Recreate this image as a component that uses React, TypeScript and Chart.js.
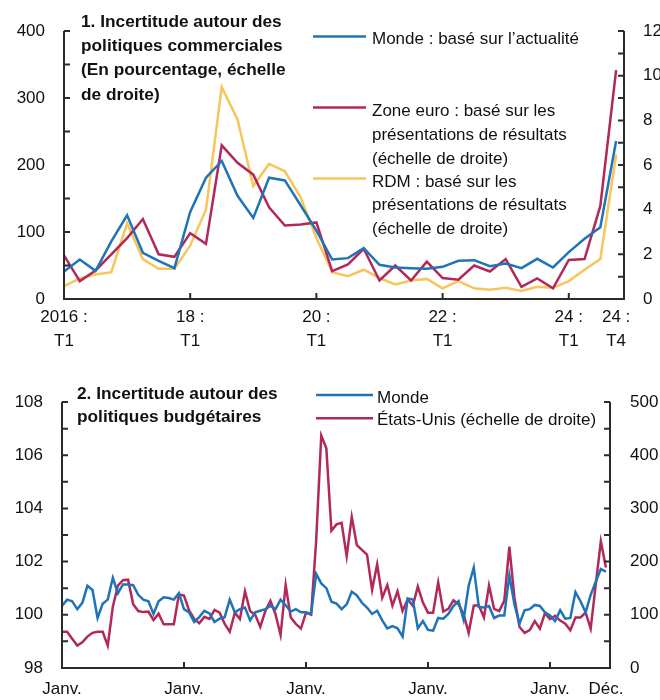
import React, { useEffect, useRef } from "react";
import { Chart, registerables } from "chart.js";

Chart.register(...registerables);

const FONT = "'Liberation Sans', Arial, Helvetica, sans-serif";
const BLUE = "#1f74b8";
const RED = "#b3285a";
const YELLOW = "#f7c55a";
const AXIS = "#2b2b2b";
const TEXT = "#111111";

// ---------- Panel 1: trade policy uncertainty (quarterly) ----------
const quarters = [
  "2016T1", "2016T2", "2016T3", "2016T4", "2017T1", "2017T2", "2017T3", "2017T4",
  "2018T1", "2018T2", "2018T3", "2018T4", "2019T1", "2019T2", "2019T3", "2019T4",
  "2020T1", "2020T2", "2020T3", "2020T4", "2021T1", "2021T2", "2021T3", "2021T4",
  "2022T1", "2022T2", "2022T3", "2022T4", "2023T1", "2023T2", "2023T3", "2023T4",
  "2024T1", "2024T2", "2024T3", "2024T4",
];
const mondeTrade = [
  41, 59, 42, 86, 125, 69, 57, 46, 130, 181, 206, 154,
  121, 181, 177, 140, 102, 59, 61, 76, 51, 47, 46, 45,
  48, 57, 58, 49, 53, 46, 60, 47, 70, 90, 107, 236,
];
const zoneEuroTrade = [
  1.95, 0.8, 1.28, 2.0, 2.73, 3.58, 2.0, 1.89, 2.95, 2.47, 6.88, 6.1,
  5.57, 4.11, 3.29, 3.34, 3.43, 1.25, 1.55, 2.25, 0.83, 1.5, 0.83, 1.67,
  0.94, 0.86, 1.5, 1.23, 1.79, 0.54, 0.92, 0.48, 1.75, 1.79, 4.17, 10.25,
];
const rdmTrade = [
  0.58, 0.92, 1.1, 1.2, 3.39, 1.79, 1.35, 1.35, 2.4, 4.0, 9.49, 8.04,
  5.06, 6.05, 5.72, 4.55, 2.73, 1.2, 1.02, 1.31, 0.94, 0.65, 0.83, 0.9,
  0.48, 0.8, 0.48, 0.42, 0.5, 0.36, 0.55, 0.5, 0.8, 1.31, 1.79, 6.47,
];
const topTickCats = ["2016T1", "2018T1", "2020T1", "2022T1", "2024T1", "2024T4"];
const topTickText = [
  ["2016 :", "T1"], ["18 :", "T1"], ["20 :", "T1"], ["22 :", "T1"], ["24 :", "T1"], ["24 :", "T4"],
];

// ---------- Panel 2: fiscal policy uncertainty (monthly) ----------
const years = ["2016", "2017", "2018", "2019", "2020", "2021", "2022", "2023", "2024"];
const monthCodes = ["01", "02", "03", "04", "05", "06", "07", "08", "09", "10", "11", "12"];
const months = years.flatMap((y) => monthCodes.map((m) => `${y}-${m}`));
const mondeFiscal = [
  100.33, 100.57, 100.51, 100.21, 100.45, 101.09, 100.93, 99.88, 100.41, 100.57,
  101.39, 100.81, 101.14, 101.14, 101.11, 100.75, 100.57, 100.51, 100.03, 100.51,
  100.66, 100.63, 100.57, 100.81, 100.21, 100.09, 99.73, 99.91, 100.15, 100.05,
  99.73, 99.85, 99.91, 100.57, 100.09, 100.21, 100.27, 99.79, 100.09, 100.15,
  100.21, 100.33, 100.21, 100.57, 100.36, 100.12, 100.21, 100.09, 100.09, 100.03,
  101.54, 101.18, 101.0, 100.49, 100.42, 100.21, 100.39, 100.87, 100.73, 100.45,
  100.27, 100.03, 100.15, 99.79, 99.49, 99.57, 99.49, 99.18, 100.61, 100.57,
  99.49, 99.76, 99.43, 99.4, 99.88, 99.85, 100.03, 100.33, 100.51, 99.81,
  101.09, 101.78, 100.29, 100.27, 100.33, 99.88, 99.97, 99.97, 101.48, 100.39,
  99.67, 100.17, 100.21, 100.37, 100.33, 100.09, 99.97, 99.76, 100.17, 99.85,
  99.88, 100.85, 100.51, 100.09, 100.75, 101.24, 101.72, 101.62,
];
const usFiscal = [
  68, 68, 55, 42, 48, 59, 66, 68, 68, 42,
  115, 155, 165, 166, 120, 107, 105, 106, 90, 102,
  82, 82, 82, 138, 136, 108, 92, 84, 96, 92,
  109, 104, 83, 68, 104, 92, 144, 107, 100, 77,
  107, 126, 101, 62, 156, 95, 83, 74, 104, 100,
  240, 437, 413, 258, 270, 273, 210, 284, 231, 222,
  213, 147, 195, 132, 156, 117, 144, 107, 129, 117,
  153, 123, 104, 104, 161, 106, 111, 127, 120, 101,
  66, 117, 118, 95, 155, 111, 107, 126, 228, 132,
  77, 66, 71, 88, 74, 103, 92, 98, 89, 83,
  71, 95, 95, 104, 74, 157, 238, 189,
];
const bottomTickCats = ["2016-01", "2018-01", "2020-01", "2022-01", "2024-01", "2024-12"];
const bottomTickText = ["Janv.", "Janv.", "Janv.", "Janv.", "Janv.", "Déc."];

type LegendItem = { color: string; x1: number; x2: number; y: number; tx: number; lines: string[]; base: number; lh: number };
type FrameCfg = {
  leftStep: number;
  rightStep: number;
  xTickIdx: number[];
  title: { x: number; base: number; lh: number; lines: string[] };
  legend: LegendItem[];
};

function framePlugin(cfg: FrameCfg) {
  return {
    id: "frame",
    afterDraw(chart: any) {
      const { ctx, chartArea: a, scales } = chart;
      ctx.save();
      ctx.strokeStyle = AXIS;
      ctx.lineWidth = 2;
      ctx.lineCap = "butt";
      ctx.beginPath();
      ctx.moveTo(a.left, a.top);
      ctx.lineTo(a.left, a.bottom);
      ctx.lineTo(a.right, a.bottom);
      ctx.lineTo(a.right, a.top);
      ctx.stroke();
      const tl = 6;
      const yl = scales.yL;
      ctx.beginPath();
      for (let v = yl.min; v <= yl.max + 1e-9; v += cfg.leftStep) {
        const p = yl.getPixelForValue(v);
        ctx.moveTo(a.left, p);
        ctx.lineTo(a.left + tl, p);
      }
      const yr = scales.yR;
      for (let v = yr.min; v <= yr.max + 1e-9; v += cfg.rightStep) {
        const p = yr.getPixelForValue(v);
        ctx.moveTo(a.right - tl, p);
        ctx.lineTo(a.right, p);
      }
      const xs = scales.x;
      cfg.xTickIdx.forEach((i) => {
        const p = xs.getPixelForValue(i);
        ctx.moveTo(p, a.bottom);
        ctx.lineTo(p, a.bottom - tl);
      });
      ctx.stroke();

      // title
      ctx.fillStyle = TEXT;
      ctx.textAlign = "left";
      ctx.textBaseline = "alphabetic";
      ctx.font = `bold 17.3px ${FONT}`;
      cfg.title.lines.forEach((t, i) => ctx.fillText(t, cfg.title.x, cfg.title.base + i * cfg.title.lh));

      // legend
      ctx.font = `17px ${FONT}`;
      cfg.legend.forEach((it) => {
        ctx.strokeStyle = it.color;
        ctx.lineWidth = 2.5;
        ctx.beginPath();
        ctx.moveTo(it.x1, it.y);
        ctx.lineTo(it.x2, it.y);
        ctx.stroke();
        ctx.fillStyle = TEXT;
        it.lines.forEach((t, i) => ctx.fillText(t, it.tx, it.base + i * it.lh));
      });
      ctx.restore();
    },
  };
}

const tickFont = { family: FONT, size: 17, lineHeight: 1.42 };

function yAxis(pos: "left" | "right", min: number, max: number, step: number, width: number, pad: number) {
  return {
    type: "linear",
    position: pos,
    min,
    max,
    grid: { display: false, drawTicks: false },
    border: { display: false },
    ticks: { stepSize: step, padding: pad, color: TEXT, font: tickFont },
    afterFit: (s: any) => {
      s.width = width;
    },
  };
}

function xAxis(max: number, tickIdx: number[], labels: (string | string[])[], height: number, pad: number) {
  return {
    type: "linear",
    position: "bottom",
    min: 0,
    max,
    grid: { display: false, drawTicks: false },
    border: { display: false },
    afterBuildTicks: (s: any) => {
      s.ticks = tickIdx.map((v) => ({ value: v }));
    },
    ticks: {
      autoSkip: false,
      maxRotation: 0,
      minRotation: 0,
      padding: pad,
      color: TEXT,
      font: tickFont,
      callback: (v: number) => {
        const k = tickIdx.indexOf(v);
        return k >= 0 ? labels[k] : "";
      },
    },
    afterFit: (s: any) => {
      s.height = height;
    },
  };
}

function lineDs(label: string, values: number[], color: string, axis: string) {
  return {
    label,
    data: values.map((v, i) => ({ x: i, y: v })),
    borderColor: color,
    backgroundColor: color,
    borderWidth: 2.5,
    pointRadius: 0,
    tension: 0,
    yAxisID: axis,
  };
}

function TopChart() {
  const ref = useRef<HTMLCanvasElement>(null);
  useEffect(() => {
    const tickIdx = topTickCats.map((c) => quarters.indexOf(c));
    const chart = new Chart(ref.current as HTMLCanvasElement, {
      type: "line",
      data: {
        datasets: [
          lineDs("Monde : basé sur l’actualité", mondeTrade, BLUE, "yL"),
          lineDs("Zone euro : basé sur les présentations de résultats (échelle de droite)", zoneEuroTrade, RED, "yR"),
          lineDs("RDM : basé sur les présentations de résultats (échelle de droite)", rdmTrade, YELLOW, "yR"),
        ],
      } as any,
      options: {
        responsive: false,
        animation: false,
        layout: { padding: { top: 24, left: 0, right: 0, bottom: 0 } },
        plugins: { legend: { display: false }, tooltip: { enabled: false } },
        scales: {
          x: xAxis(35.5, tickIdx, topTickText, 63, 6),
          yL: yAxis("left", 0, 400, 100, 64, 19),
          yR: yAxis("right", 0, 12, 2, 36, 19),
        } as any,
      },
      plugins: [
        framePlugin({
          leftStep: 50,
          rightStep: 1,
          xTickIdx: tickIdx.slice(0, tickIdx.length - 1),
          title: {
            x: 81,
            base: 26.5,
            lh: 24.4,
            lines: ["1. Incertitude autour des", "politiques commerciales", "(En pourcentage, échelle", "de droite)"],
          },
          legend: [
            { color: BLUE, x1: 313, x2: 366, y: 36.5, tx: 372, base: 44, lh: 24, lines: ["Monde : basé sur l’actualité"] },
            {
              color: RED, x1: 313, x2: 366, y: 107.5, tx: 372, base: 115.5, lh: 24,
              lines: ["Zone euro : basé sur les", "présentations de résultats", "(échelle de droite)"],
            },
            {
              color: YELLOW, x1: 313, x2: 366, y: 178.5, tx: 372, base: 186.5, lh: 23.5,
              lines: ["RDM : basé sur les", "présentations de résultats", "(échelle de droite)"],
            },
          ],
        }),
      ],
    });
    return () => chart.destroy();
  }, []);
  return <canvas ref={ref} width={660} height={362} style={{ position: "absolute", left: 0, top: 0 }} />;
}

function BottomChart() {
  const ref = useRef<HTMLCanvasElement>(null);
  useEffect(() => {
    const tickIdx = bottomTickCats.map((c) => months.indexOf(c));
    const chart = new Chart(ref.current as HTMLCanvasElement, {
      type: "line",
      data: {
        datasets: [
          lineDs("Monde", mondeFiscal, BLUE, "yL"),
          lineDs("États-Unis (échelle de droite)", usFiscal, RED, "yR"),
        ],
      } as any,
      options: {
        responsive: false,
        animation: false,
        layout: { padding: { top: 23, left: 0, right: 0, bottom: 0 } },
        plugins: { legend: { display: false }, tooltip: { enabled: false } },
        scales: {
          x: xAxis(107.8, tickIdx, bottomTickText, 31, 9),
          yL: yAxis("left", 98, 108, 2, 62, 19),
          yR: yAxis("right", 0, 500, 100, 50, 20),
        } as any,
      },
      plugins: [
        framePlugin({
          leftStep: 1,
          rightStep: 50,
          xTickIdx: tickIdx.slice(0, tickIdx.length - 1),
          title: { x: 77, base: 29, lh: 23.3, lines: ["2. Incertitude autour des", "politiques budgétaires"] },
          legend: [
            { color: BLUE, x1: 316, x2: 373, y: 25, tx: 377, base: 33.3, lh: 23, lines: ["Monde"] },
            { color: RED, x1: 316, x2: 373, y: 48.3, tx: 377, base: 54.5, lh: 23, lines: ["États-Unis (échelle de droite)"] },
          ],
        }),
      ],
    });
    return () => chart.destroy();
  }, []);
  return <canvas ref={ref} width={660} height={330} style={{ position: "absolute", left: 0, top: 370 }} />;
}

export default function App() {
  useEffect(() => {
    document.body.style.margin = "0";
    document.body.style.overflow = "hidden";
  }, []);
  return (
    <div style={{ position: "relative", width: 660, height: 700, overflow: "hidden", background: "#fff" }}>
      <TopChart />
      <BottomChart />
    </div>
  );
}
